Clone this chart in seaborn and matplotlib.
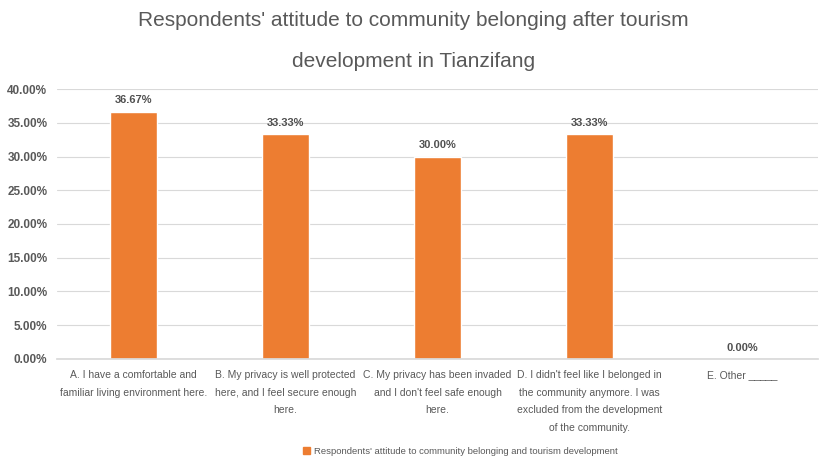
import matplotlib
matplotlib.use("Agg")
import matplotlib.pyplot as plt
import seaborn as sns
import pandas as pd
from matplotlib.patches import Patch
from matplotlib.ticker import FuncFormatter

categories = [
    "A. I have a comfortable and\nfamiliar living environment here.",
    "B. My privacy is well protected\nhere, and I feel secure enough\nhere.",
    "C. My privacy has been invaded\nand I don't feel safe enough\nhere.",
    "D. I didn't feel like I belonged in\nthe community anymore. I was\nexcluded from the development\nof the community.",
    "E. Other _____",
]
values = [36.67, 33.33, 30.00, 33.33, 0.00]
series_name = "Respondents' attitude to community belonging and tourism development"
title = "Respondents' attitude to community belonging after tourism\ndevelopment in Tianzifang"

sns.set_theme(style="white")
plt.rcParams['font.family'] = ['Liberation Sans', 'DejaVu Sans']

df = pd.DataFrame({"cat": categories, "val": values})

fig = plt.figure(figsize=(8.27, 4.59), dpi=100)
ax = fig.add_axes([0.069, 0.218, 0.92, 0.588])
color = "#ED7D31"
sns.barplot(data=df, x="cat", y="val", color=color, width=0.31, ax=ax, saturation=1)

ax.set_ylim(0, 40)
ax.set_yticks([0, 5, 10, 15, 20, 25, 30, 35, 40])
ax.yaxis.set_major_formatter(FuncFormatter(lambda v, p: f"{v:.2f}%"))
ax.grid(axis="y", color="#D9D9D9", linewidth=0.8)
ax.set_axisbelow(True)
for s in ["top", "right", "left"]:
    ax.spines[s].set_visible(False)
ax.spines["bottom"].set_color("#D9D9D9")
ax.set_xlabel("")
ax.set_ylabel("")
ax.tick_params(axis="y", labelsize=8.5, colors="#595959", length=0, pad=7)
ax.tick_params(axis="x", length=0, pad=8)
for lab in ax.get_yticklabels():
    lab.set_fontweight("semibold")
for lab in ax.get_xticklabels():
    lab.set_linespacing(1.95)
    lab.set_fontsize(7.5)
    lab.set_color("#595959")

for i, v in enumerate(values):
    ax.text(i, v + 0.9, f"{v:.2f}%", ha="center", va="bottom", fontsize=8,
            fontweight="bold", color="#505050")

fig.suptitle(title, fontsize=15, color="#595959", y=0.976, linespacing=2.45)

handle = Patch(color=color)
fig.legend([handle], [series_name], loc="lower center", bbox_to_anchor=(0.557, -0.012),
           frameon=False, handlelength=0.7, handleheight=0.7,
           handletextpad=0.5, labelcolor="#595959",
           prop=dict(size=6.8))

fig.savefig("out.png", dpi=100)
